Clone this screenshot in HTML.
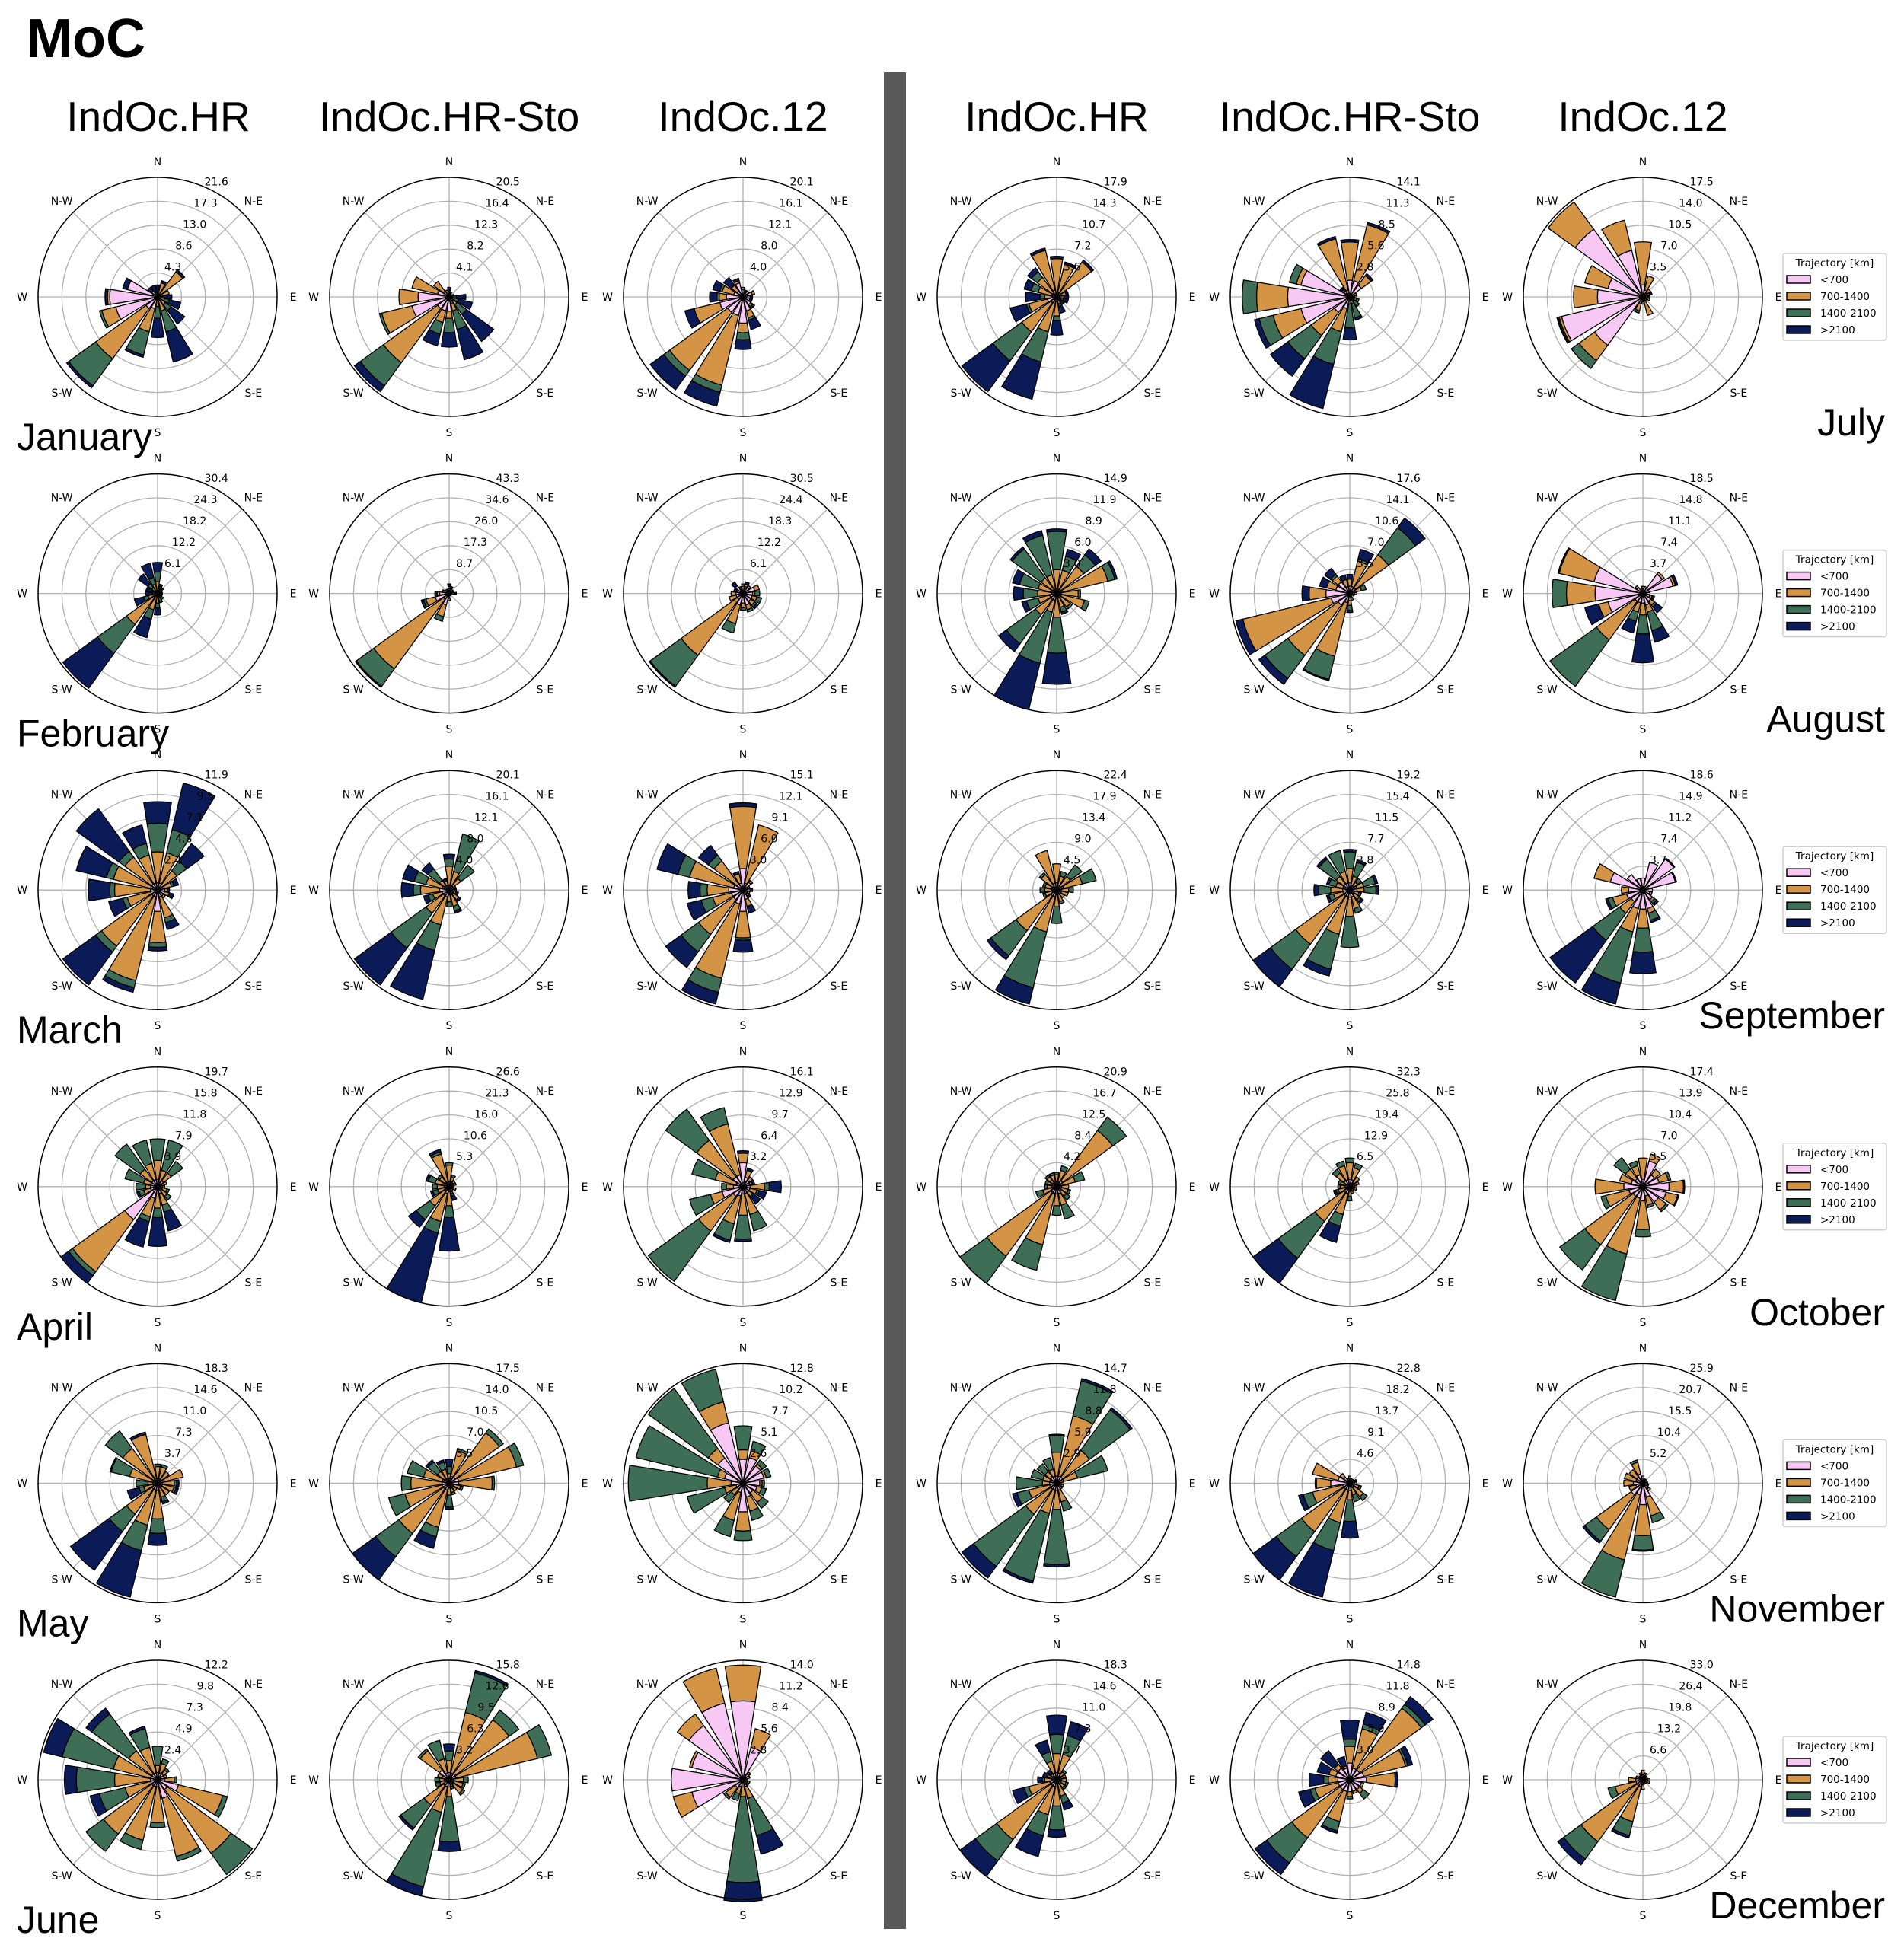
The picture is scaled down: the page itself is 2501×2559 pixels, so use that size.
<!DOCTYPE html>
<html><head><meta charset="utf-8"><style>
html,body{margin:0;padding:0;background:#fff;}
svg{display:block;font-family:"DejaVu Sans","Liberation Sans",sans-serif;}
</style></head>
<body>
<svg id="fig" width="2501" height="2559" viewBox="0 0 2501 2559" xmlns="http://www.w3.org/2000/svg">
<rect x="0" y="0" width="2501" height="2559" fill="#fff"/>
<text x="35" y="75" font-family="Liberation Sans, sans-serif" font-weight="bold" font-size="72">MoC</text>
<rect x="1161" y="95" width="29" height="2439" fill="#595959"/>
<g id="heads" font-family="Liberation Sans, sans-serif" font-size="55" text-anchor="middle">
<text x="208" y="172">IndOc.HR</text>
<text x="590" y="172">IndOc.HR-Sto</text>
<text x="976" y="172">IndOc.12</text>
<text x="1388" y="172">IndOc.HR</text>
<text x="1773" y="172">IndOc.HR-Sto</text>
<text x="2158" y="172">IndOc.12</text>
</g>
<g id="roses"></g>
</svg>
<script>
// Categories
const directions = ["N","NNE","NE","ENE","E","ESE","SE","SSE","S","SSW","SW","WSW","W","WNW","NW","NNW"];
const dirLabels = ["N","N-E","E","S-E","S","S-W","W","N-W"];
const bins = ["<700","700-1400","1400-2100",">2100"];
const leftMonths = ["January","February","March","April","May","June"];
const rightMonths = ["July","August","September","October","November","December"];
const models = ["IndOc.HR","IndOc.HR-Sto","IndOc.12"];
// Outer ring value per panel, rows = months, cols = 6 panels
const rmaxRow0 = [21.6,20.5,20.1,17.9,14.1,17.5];
const rmaxRow1 = [30.4,43.3,30.5,14.9,17.6,18.5];
const rmaxRow2 = [11.9,20.1,15.1,22.4,19.2,18.6];
const rmaxRow3 = [19.7,26.6,16.1,20.9,32.3,17.4];
const rmaxRow4 = [18.3,17.5,12.8,14.7,22.8,25.9];
const rmaxRow5 = [12.2,15.8,14.0,18.3,14.8,33.0];
// Per-direction stacked values [<700,700-1400,1400-2100,>2100] in ring units (outer ring = 5)
const jan_hr=[[0,.2,0,.3],[0,.6,0,.1],[0,1.3,0,.1],[0,.5,0,0],[0,.2,0,.4],[0,.3,.2,.5],[0,.4,.3,.7],[0,.6,.9,1.3],[0,.4,.5,.8],[.5,1,1,.1],[.6,2.6,1.4,.1],[1.8,.6,.1,0],[2,.1,0,.1],[1.3,0,0,.2],[.3,0,0,.2],[0,.2,0,.3]];
const jan_sto=[[0,.2,0,.2],[0,.1,0,.1],[0,0,0,.1],[0,0,0,.2],[0,.1,.2,.4],[0,.1,.3,.6],[.2,.2,.5,1.4],[.3,.3,.8,1.3],[.6,.3,.6,.6],[.6,.5,.5,.5],[.6,2.8,1.2,.3],[1.6,1.3,.1,0],[1.3,.8,0,0],[.5,1.1,0,0],[.3,.5,0,0],[.1,.2,0,0]];
const jan_12=[[.3,.1,0,0],[.2,0,0,.1],[.3,0,0,0],[.4,.1,0,0],[.3,0,0,.1],[.3,0,0,.1],[.4,.1,0,.1],[.6,.3,.1,.4],[1.1,.4,.3,.4],[.8,3,.3,.6],[.8,3,.3,.7],[1,1.1,0,.4],[.7,.3,.1,.3],[.4,.5,.1,.3],[.3,.3,0,.4],[.6,.1,0,.1]];
const feb_hr=[[0,.5,.4,.4],[0,.2,.1,.1],[0,.2,0,.1],[0,.2,0,0],[0,.1,0,.1],[0,.1,.1,0],[0,.1,.2,0],[0,.2,.2,0],[.1,.3,.2,.3],[.1,.6,.4,.8],[.2,1.4,1.5,1.8],[.1,.3,.2,.4],[0,.2,0,.3],[0,.2,0,.3],[0,.3,.2,.5],[0,.4,.3,.6]];
const feb_sto=[[.2,.1,0,.1],[.2,0,0,.1],[.2,0,0,0],[.1,0,0,.1],[.2,0,0,.1],[.1,0,0,0],[.1,0,0,0],[.1,0,0,0],[.2,.1,0,0],[.5,.5,.2,0],[.3,3.6,.9,.05],[.6,.4,.1,.1],[.4,.1,0,.1],[.3,0,0,0],[.2,0,0,0],[.2,0,0,0]];
const feb_12=[[.3,.1,0,0],[.3,.1,0,.1],[.3,.1,0,0],[.5,.2,0,0],[.4,.1,.2,0],[.4,.2,.2,0],[.4,.2,.1,.1],[.5,.2,.1,0],[.4,.2,.1,0],[.5,.8,.4,0],[.3,2.9,1.6,.05],[.3,.3,0,0],[.3,.2,0,0],[.3,0,0,.1],[.4,0,0,.2],[.2,0,0,.1]];
const mar_hr=[[.3,1.3,1.2,.9],[.3,1.3,1,2],[.2,.8,.5,.9],[.3,.3,.1,.2],[.3,.1,0,.1],[.3,.2,0,.2],[.3,.1,0,0],[.3,.9,.2,.3],[.9,1.3,.2,.15],[.3,3.6,.3,.2],[.3,2.6,.3,1.7],[.3,1,.2,.6],[.3,1.5,.2,.9],[.3,1.6,.3,1.3],[.3,1.4,.3,2.2],[.3,1.2,.5,.8]];
const mar_sto=[[.2,.8,.3,.2],[.2,.6,1.6,0],[.2,.4,.7,0],[.2,.1,0,0],[.2,0,0,.1],[.2,.1,0,.1],[.2,.3,0,.1],[.2,.5,.2,.1],[.2,.3,.2,0],[.3,1.2,1.1,2.1],[.3,.9,1.8,1.9],[.3,.4,.2,.2],[.4,.8,.3,.5],[.3,.7,.5,.5],[.2,.3,.6,.3],[.2,.2,0,.1]];
const mar_12=[[.9,2.6,0,.15],[.3,2.5,0,0],[.4,.1,0,0],[.2,.1,0,0],[.3,0,0,.1],[.2,.1,0,0],[.2,.1,0,.1],[.4,.3,0,.3],[.9,1.1,.1,.5],[.6,3.2,.6,.5],[.5,1.8,.9,.8],[.5,.8,.5,.6],[.6,.9,.3,.5],[.4,1.9,.5,.9],[.3,1.2,.3,.5],[.3,.4,0,.1]];
const apr_hr=[[.3,.8,.9,0],[.2,.5,1.3,0],[.3,.4,.6,0],[.2,.2,0,0],[.2,.1,0,0],[.2,.2,.1,0],[.2,.3,.2,0],[.3,.5,.3,.8],[.3,.6,.4,1.2],[.5,.8,.2,1.1],[1.7,2.7,.2,.4],[.3,.3,.2,.1],[.3,.2,.4,0],[.3,.3,.8,0],[.3,.6,1.3,0],[.3,.7,1,0]];
const apr_sto=[[.2,.7,.1,0],[.2,.2,.1,0],[.2,.1,0,0],[.2,.1,0,0],[.1,.1,0,0],[.2,.1,0,0],[.1,.1,0,0],[.2,.1,.1,.2],[.2,.6,.5,1.4],[.3,1.2,.5,3],[.2,.8,.7,.4],[.2,.3,.2,.1],[.2,.3,.2,0],[.2,.4,.3,.1],[.2,.3,.1,0],[.2,1.2,.1,.1]];
const apr_12=[[1,.4,0,.1],[.4,.3,0,.1],[.3,.2,0,0],[.3,.1,0,.1],[.3,.6,.2,.5],[.3,.3,.1,.3],[.3,.2,0,.4],[.3,.9,.7,0],[.3,.9,1,.1],[.4,1.2,.7,.1],[.5,1.8,2.6,0],[.9,.5,.9,0],[.4,.3,.2,0],[.3,.9,1,0],[.5,1.9,1.6,0],[.5,2.2,.7,0]];
const may_hr=[[.2,.5,.1,0],[.2,.5,.1,0],[.2,.4,0,0],[.3,.8,0,0],[.2,.5,.1,.1],[.2,.5,.1,.1],[.2,.4,0,0],[.2,.4,.2,.1],[.3,1.2,.6,.5],[.3,1.5,1.1,2],[.3,1.3,.9,2],[.2,.4,.2,.5],[.2,.2,.5,0],[.2,1,.8,.05],[.2,1.6,.9,0],[.2,1.9,0,.1]];
const may_sto=[[.2,.2,.3,.3],[.3,1.1,.1,0],[.3,2.3,.2,0],[.4,2.5,.3,0],[.4,1.4,.1,0],[.2,.3,.1,0],[.2,.2,0,0],[.2,.2,.1,0],[.2,.3,.5,.1],[.3,1.6,.4,.5],[.3,2.3,1.2,1.2],[.3,1.6,.7,0],[.3,1.3,.4,0],[.3,.8,.7,0],[.2,.4,.5,.1],[.2,.4,.3,.1]];
const may_12=[[1,.4,1,0],[1.1,.3,.4,0],[.9,.1,.2,0],[.9,.1,.2,0],[.7,.1,.1,0],[.6,.2,.2,0],[.5,.5,.3,0],[.6,.6,.4,0],[1.2,.8,.4,0],[.4,1.2,.7,0],[.3,.3,.4,0],[.3,.5,1.6,0],[.5,1,3.3,0],[.8,.3,3.5,0],[1.3,.5,3.1,0],[2.6,.9,1.4,0]];
const jun_hr=[[.3,.3,.8,0],[.3,.4,.2,0],[.3,.2,.1,0],[.3,.1,0,0],[.3,.4,.1,0],[.9,1.9,.2,0],[.5,3.3,1.1,0],[.8,2.5,.2,0],[.3,1.5,.2,0],[.3,2.3,.4,0],[.3,2.5,.9,0],[.3,1.1,1.1,.4],[.3,1.5,1.6,.5],[.3,1.6,2.2,.8],[.3,1.2,1.9,.3],[.3,1.1,.8,.1]];
const jun_sto=[[.3,.5,.4,.3],[.3,2.6,1.7,.1],[.3,2.8,.5,0],[.3,3.5,.6,0],[.2,.4,.2,0],[.2,.4,.1,0],[.2,.5,.1,0],[.2,.1,.1,0],[.3,.4,1.9,.4],[.3,1.1,3.2,.4],[.3,1,1.2,.1],[.2,.2,.2,0],[.2,.2,.2,0],[.3,.2,0,0],[.5,1,.1,0],[.3,.6,.8,0]];
const jun_12=[[3.3,1.5,0,0],[1.4,.8,0,0],[.3,.1,0,0],[.3,0,0,0],[.2,0,0,0],[.2,.1,0,0],[.2,.1,0,0],[.3,.5,1.6,.8],[.3,.4,3.6,.8],[.3,.3,.3,0],[.4,.5,.1,0],[2.2,.8,0,0],[3,0,0,0],[2.2,.1,0,0],[2.8,.6,0,0],[3.3,1.5,0,0]];
const jul_hr=[[0,1.6,0,.1],[.2,1.2,0,.1],[.2,1.6,0,.1],[0,.4,0,.1],[0,.3,0,.2],[0,.2,.1,.2],[0,.1,.1,.2],[0,.3,.1,.3],[.2,.6,.2,.6],[.2,1.3,1.3,1.6],[.3,1.5,1.5,1.6],[.4,.8,.1,.7],[.2,.3,.2,.6],[.2,.6,.3,.3],[.2,.8,.3,.2],[.3,1.7,0,.1]];
const jul_sto=[[.7,1.6,0,.1],[.7,2.4,0,.1],[.6,.5,0,.1],[.2,.1,0,0],[.2,.1,0,0],[.2,.1,.1,0],[.1,.1,.3,0],[.1,.2,.6,.1],[.1,.2,1,.5],[.5,1,1.4,1.9],[.8,1.2,1.2,.9],[2.1,1.2,.6,.2],[2.6,1.3,.6,0],[2.1,.2,.3,0],[.2,.1,.1,.1],[.3,2.2,0,.1]];
const jul_12=[[.5,1.8,0,0],[.3,.6,0,0],[.2,.2,0,0],[.2,.1,0,.1],[.2,0,0,.1],[.2,.1,0,0],[.1,.1,0,0],[.2,.6,0,0],[.2,.1,0,0],[.3,.3,.1,0],[2.5,.8,.4,0],[3.5,.1,.05,.05],[1.9,1,0,0],[1.5,1,0,0],[3.5,1.4,0,0],[2,1.3,0,0]];
const aug_hr=[[.2,.8,1.6,.1],[.2,.8,.6,.3],[.2,1.2,.6,.3],[.2,2,.3,.1],[.2,.7,.1,0],[.2,1,.2,0],[.2,.5,.1,0],[.2,.4,.2,.1],[.2,.8,1.5,1.3],[.3,.5,2.2,2],[.3,.8,1.5,.4],[.3,.5,.5,.2],[.2,.6,.6,.4],[.2,.6,.8,.3],[.2,.6,1.5,.1],[.2,.6,1.7,.2]];
const aug_sto=[[.3,.3,0,.2],[.3,1.1,.1,.4],[.3,1.7,1.4,.5],[.2,.3,.2,0],[.2,.1,0,0],[.2,0,0,0],[.1,0,0,0],[.2,.1,0,0],[.3,.2,.2,.1],[.4,2.3,1,.05],[.6,2.6,1.2,.3],[.8,3.8,0,.3],[1,.7,0,.3],[.6,.4,0,.3],[.6,.3,.1,.3],[.3,.3,0,.2]];
const aug_12=[[.2,.1,0,0],[.3,0,0,0],[1,.1,0,0],[1.3,.1,0,.1],[.3,0,0,0],[.3,.1,0,.1],[.4,.2,.1,.3],[.5,.3,.8,.5],[.4,.5,.8,1.2],[.4,.4,.4,.5],[.4,2,2.4,0],[1.5,.4,0,.6],[2,1.2,.6,0],[2.1,1.5,0,.05],[.3,.1,0,0],[.2,0,0,0]];
const sep_hr=[[.3,.8,0,0],[.2,.4,.2,0],[.2,.5,.6,0],[.3,.8,.6,0],[.2,.3,.2,0],[.2,.3,0,0],[.2,.2,0,0],[.2,.3,.1,0],[.2,.5,.7,0],[.3,1.5,2.4,.7],[.3,1.8,1.3,.2],[.2,.3,.1,0],[.2,.3,.2,0],[.2,.3,.1,0],[.2,.6,.1,0],[.3,1.4,0,0]];
const sep_sto=[[.3,.6,.7,.1],[.2,.4,.6,.1],[.2,.2,.2,0],[.3,.3,.5,.1],[.3,.3,.5,.1],[.2,.2,.1,0],[.2,.3,.1,.1],[.3,.5,.2,0],[.3,.8,1.3,0],[.3,1.6,1.5,.3],[.3,2.5,1.3,.9],[.3,.4,.2,.1],[.3,.5,.5,.2],[.3,.3,.3,.1],[.3,.4,.9,.1],[.3,.5,.9,0]];
const sep_12=[[.5,0,0,0],[1.2,0,0,0],[1.6,0,0,.05],[1.4,0,0,.05],[.4,0,0,0],[.3,.1,0,0],[.5,.1,.1,.1],[.8,.2,.3,.1],[.8,.8,1,.9],[.8,1,2.2,.9],[.6,.6,1.4,2.2],[.7,.6,.2,.1],[.6,.3,0,0],[1.4,.7,0,0],[.8,0,0,0],[.5,0,0,0]];
const oct_hr=[[.2,.3,.1,0],[.2,.5,.2,0],[.3,2.6,.7,0],[.2,.6,.4,0],[.2,.3,0,0],[.2,.3,.1,0],[.2,.3,.2,0],[.3,.5,.6,0],[.3,.5,.4,0],[.3,2.2,1.1,0],[.3,3.3,1.4,0],[.2,.4,.3,0],[.2,.2,.1,0],[.2,.2,.1,0],[.2,.3,.1,0],[.2,.3,.1,0]];
const oct_sto=[[.3,.7,.2,0],[.3,.5,.2,0],[.2,.3,0,0],[.2,.2,0,0],[.2,.1,0,0],[.2,.1,0,0],[.1,.1,0,0],[.2,.1,0,0],[.2,.2,.2,0],[.3,.9,.5,.7],[.3,1.5,1.9,1.3],[.2,.3,.1,.1],[.2,.2,.1,0],[.2,.2,.1,0],[.3,.4,.2,0],[.3,.6,.2,0]];
const oct_12=[[.3,.9,0,0],[1.1,.3,0,0],[.6,.3,0,0],[.7,.4,.1,0],[1.1,.6,0,.05],[1,.5,0,.05],[.8,.4,.1,0],[.4,.4,.1,0],[.6,1.2,.3,0],[.5,2.4,2,0],[.5,2.5,1.3,0],[.6,1,.2,0],[.8,1.2,0,0],[.5,.5,0,0],[.4,.5,.6,0],[.5,.4,.2,0]];
const nov_hr=[[.3,1,.7,.05],[.3,2.6,1.5,.1],[.3,1.4,2.1,.1],[.3,.6,1.3,0],[.2,.1,0,0],[.2,.1,0,0],[.2,.1,0,0],[.3,.5,.4,0],[.3,.8,2.3,.1],[.3,1,2.9,.1],[.3,1.3,2.7,.6],[.3,.9,.5,.2],[.3,.3,1.1,0],[.3,.3,.5,0],[.3,.3,.4,0],[.3,.3,.5,0]];
const nov_sto=[[.2,.1,0,0],[.2,0,0,0],[.2,0,0,0],[.2,0,0,.1],[.2,.1,0,0],[.2,.2,.1,0],[.2,.5,.2,0],[.2,.3,.3,0],[.3,.4,.9,.7],[.3,1.4,1.2,2],[.3,2.2,1.3,1.2],[.3,1.3,.4,.2],[.8,.6,0,.05],[.5,1.1,0,0],[.3,.2,0,0],[.2,0,0,0]];
const nov_12=[[.3,0,0,0],[.2,0,0,0],[.2,0,0,0],[.2,0,0,0],[.2,0,0,0],[.2,0,0,.05],[.3,.1,0,0],[.6,.8,.3,0],[.9,1.3,.6,.05],[.5,2.8,1.6,0],[.6,1.8,.6,.1],[.3,.3,0,0],[.4,.4,0,0],[.3,.5,0,0],[.3,.4,0,0],[.4,.5,.1,0]];
const dec_hr=[[.3,.8,.8,.8],[.3,.8,.8,.6],[.2,.2,.1,0],[.2,.2,0,0],[.2,.2,0,0],[.2,.2,.1,0],[.2,.2,.1,0],[.2,.5,.3,.3],[.3,.8,1,.3],[.3,1.2,.9,.9],[.3,2.8,1.1,.8],[.3,.9,.2,.5],[.2,.3,.1,.2],[.2,.2,0,.2],[.2,.1,0,.2],[.3,.5,.4,.5]];
const dec_sto=[[.7,.7,.3,.8],[.5,1.7,.2,.5],[.5,3.2,.2,.4],[.6,1.8,.1,.2],[.7,1.2,0,.1],[.5,.1,0,0],[.5,.2,.3,0],[.5,.1,0,0],[.5,.2,.1,0],[.5,1.3,.4,.1],[.5,2.5,1.3,.6],[.5,1,.2,.5],[.5,.4,.2,.6],[.6,.3,0,.5],[.6,.2,0,.7],[.5,.1,0,.4]];
const dec_12=[[.2,.2,0,0],[.2,.1,0,0],[.2,0,0,0],[.2,0,0,0],[.2,.1,0,0],[.2,.1,0,0],[.1,.1,0,0],[.1,.1,0,0],[.2,.2,0,0],[.3,1.5,.6,.1],[.3,2.9,.9,.3],[.3,.9,.3,0],[.3,.3,0,0],[.2,.1,0,0],[.1,.1,0,0],[.2,.1,0,0]];

const panelRows = [
 [jan_hr,jan_sto,jan_12,jul_hr,jul_sto,jul_12],
 [feb_hr,feb_sto,feb_12,aug_hr,aug_sto,aug_12],
 [mar_hr,mar_sto,mar_12,sep_hr,sep_sto,sep_12],
 [apr_hr,apr_sto,apr_12,oct_hr,oct_sto,oct_12],
 [may_hr,may_sto,may_12,nov_hr,nov_sto,nov_12],
 [jun_hr,jun_sto,jun_12,dec_hr,dec_sto,dec_12]];
const rmaxRows = [rmaxRow0,rmaxRow1,rmaxRow2,rmaxRow3,rmaxRow4,rmaxRow5];

const NS="http://www.w3.org/2000/svg";
const colors=["#f7c8f4","#d39446","#3e6e56","#0b1b57"];
const colX=[207,590,976,1388,1773,2158];
const R=157, RINGS=5, OPEN=18;
const rowY=i=>390+389.6*i;
const root=document.getElementById("roses");
function el(tag,attrs,parent){const e=document.createElementNS(NS,tag);for(const k in attrs)e.setAttribute(k,attrs[k]);(parent||root).appendChild(e);return e;}
function rScale(v){return v/RINGS*R;}
function pt(cx,cy,r,deg){const a=deg*Math.PI/180;return [cx+r*Math.sin(a),cy-r*Math.cos(a)];}
function sector(cx,cy,r0,r1,a0,a1){
  const p1=pt(cx,cy,r1,a0),p2=pt(cx,cy,r1,a1);
  let d=`M${p1[0].toFixed(2)},${p1[1].toFixed(2)} A${r1},${r1} 0 0 1 ${p2[0].toFixed(2)},${p2[1].toFixed(2)}`;
  if(r0>0.01){const q1=pt(cx,cy,r0,a1),q2=pt(cx,cy,r0,a0);d+=` L${q1[0].toFixed(2)},${q1[1].toFixed(2)} A${r0},${r0} 0 0 0 ${q2[0].toFixed(2)},${q2[1].toFixed(2)} Z`;}
  else d+=` L${cx},${cy} Z`;
  return d;
}
function drawRose(ri,ci,data,rmax){
  const cx=colX[ci],cy=rowY(ri);
  const g=el("g",{});
  
  
  for(let k=1;k<RINGS;k++){
    const c=el("circle",{cx:cx,cy:cy,r:k*R/RINGS,fill:"none",stroke:"#b0b0b0","stroke-width":1.3},g);
    
    
  }
  for(let k=0;k<8;k++){
    const p=pt(cx,cy,R,k*45);
    const l=el("line",{x1:cx,y1:cy,x2:p[0],y2:p[1],stroke:"#b0b0b0","stroke-width":1.3},g);
    
    
    const lp=pt(cx,cy,R+21,k*45);
    const t=el("text",{x:lp[0],y:lp[1]+5,"text-anchor":"middle","font-size":14},g);
    t.textContent=dirLabels[k];
    
    
  }
  data.forEach((seg,di)=>{
    const ac=di*22.5;let cum=0;
    seg.forEach((v,bi)=>{
      if(v<=0)return;
      const r0=rScale(cum),r1=rScale(cum+v);cum+=v;
      const p=el("path",{d:sector(cx,cy,r0,r1,ac-OPEN/2,ac+OPEN/2),fill:colors[bi],stroke:"#000","stroke-width":1.3,"stroke-linejoin":"miter"},g);
      
      
    });
  });
  const oc=el("circle",{cx:cx,cy:cy,r:R,fill:"none",stroke:"#000","stroke-width":1.5},g);
  
  
  for(let k=1;k<=RINGS;k++){
    const lp=pt(cx,cy,k*R/RINGS+13,27);
    const t=el("text",{x:lp[0],y:lp[1]+5,"text-anchor":"middle","font-size":14},g);
    t.textContent=(rmax*k/RINGS).toFixed(1);
    
    
  }
}
function drawLegend(ri){
  const cy=rowY(ri);
  const g=el("g",{});
  
  
  el("rect",{x:2342,y:cy-57,width:136,height:114,rx:3,fill:"#fff",stroke:"#d0d0d0","stroke-width":1.5},g);
  const t=el("text",{x:2410,y:cy-40,"text-anchor":"middle","font-size":13.5},g);
  t.textContent="Trajectory [km]";
  
  
  bins.forEach((b,i)=>{
    const y=cy-23+i*22;
    const e=el("g",{},g);
    
    
    el("rect",{x:2347,y:y-5,width:31,height:10,fill:colors[i],stroke:"#000","stroke-width":1.5},e);
    const tt=el("text",{x:2391,y:y+5,"font-size":13.5},e);
    tt.textContent=b;
  });
}
for(let ri=0;ri<6;ri++){
  for(let ci=0;ci<6;ci++) drawRose(ri,ci,panelRows[ri][ci],rmaxRows[ri][ci]);
  drawLegend(ri);
  const cy=rowY(ri);
  const lm=el("text",{x:22,y:cy+201,"font-size":50,"font-family":"Liberation Sans, sans-serif"});
  lm.textContent=leftMonths[ri];
  
  
  const rm=el("text",{x:2476,y:cy+182,"font-size":50,"text-anchor":"end","font-family":"Liberation Sans, sans-serif"});
  rm.textContent=rightMonths[ri];
  
  
}
</script>
</body></html>
